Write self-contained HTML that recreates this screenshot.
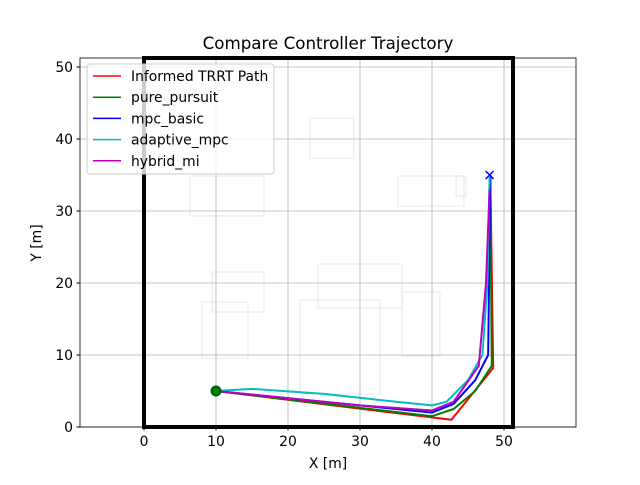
<!DOCTYPE html>
<html><head><meta charset="utf-8"><style>
body{margin:0;background:#fff;font-family:"Liberation Sans","DejaVu Sans",sans-serif}
</style></head><body>
<svg width="640" height="480" xmlns="http://www.w3.org/2000/svg" id="svg" font-family="DejaVu Sans, Liberation Sans, sans-serif">
<text x="328" y="49" text-anchor="middle" font-size="16.7">Compare Controller Trajectory</text>
<g id="map" fill="none" stroke="#d8d8d8" stroke-width="0.6">
<rect x="310" y="118" width="44" height="40"/><rect x="398" y="176" width="66" height="30"/><rect x="318" y="264" width="84" height="44"/>
<rect x="300" y="300" width="80" height="94"/><rect x="212" y="272" width="52" height="40"/><rect x="202" y="302" width="46" height="56"/>
<rect x="402" y="292" width="38" height="64"/><rect x="190" y="176" width="74" height="40"/><rect x="456" y="176" width="10" height="20"/>
</g>
<g id="grid" stroke="#b0b0b0" stroke-width="0.8"></g>
<g id="series" fill="none" stroke-width="2"></g>
<rect x="80" y="58" width="496" height="369" fill="none" stroke="#000" stroke-width="0.8"/>
<g id="ticks" font-size="13.9"></g>
<text x="328" y="468" text-anchor="middle" font-size="13.9">X [m]</text>
<text x="41" y="243" text-anchor="middle" font-size="13.9" transform="rotate(-90 41 243)">Y [m]</text>
<g>
<rect x="87" y="64" width="187" height="110" rx="3" fill="#fff" fill-opacity="0.8" stroke="#ccc"/>
<g id="legend" font-size="13.9"></g>
</g>
</svg>
<script>
const xTicks=[0,10,20,30,40,50];
const yTicks=[0,10,20,30,40,50];
const names=["Informed TRRT Path","pure_pursuit","mpc_basic","adaptive_mpc","hybrid_mi"];
const colors=["#ff0000","#008000","#0000ff","#00bfbf","#bf00bf"];
const redX=[10,42.7,48.5,48.1];const redY=[5,1.0,8.2,35];
const greenX=[10,40,43,46,48.3,48.1];const greenY=[5,1.5,2.5,5,8.5,35];
const blueX=[10,40,43,46,47.8,48.1];const blueY=[5,2.0,3.2,6.5,10,35];
const cyanX=[10,15,25,35,40,42,45,47,47.7,48];const cyanY=[5,5.3,4.6,3.5,3.0,3.5,6.5,10,20,35];
const magX=[10,20,30,40,43,46.5,47.5,48];const magY=[5,4,3,2.3,3.5,8.5,20,33];
const mapSize=[51.25];
const sx=v=>144+v*7.2, sy=v=>427-v*7.2;
const NS="http://www.w3.org/2000/svg";
function mk(t,a,p){const e=document.createElementNS(NS,t);for(const k in a)e.setAttribute(k,a[k]);p.appendChild(e);return e;}
const grid=document.getElementById('grid'),ticks=document.getElementById('ticks'),ser=document.getElementById('series'),leg=document.getElementById('legend');
xTicks.forEach(v=>{const l=mk('line',{x1:sx(v),x2:sx(v),y1:58,y2:427},grid);


mk('line',{x1:sx(v),x2:sx(v),y1:427,y2:430.5,stroke:'#000'},ticks);
const t=mk('text',{x:sx(v),y:446,'text-anchor':'middle'},ticks);t.textContent=v;

});
yTicks.forEach(v=>{const l=mk('line',{y1:sy(v),y2:sy(v),x1:80,x2:576},grid);


mk('line',{y1:sy(v),y2:sy(v),x1:76.5,x2:80,stroke:'#000'},ticks);
const t=mk('text',{x:73,y:sy(v)+5,'text-anchor':'end'},ticks);t.textContent=v;

});
const b=mapSize[0];
const border=mk('path',{d:`M${sx(0)},${sy(0)}V${sy(b)}H${sx(b)}V${sy(0)}Z`,stroke:'#000','stroke-width':4,fill:'none'},ser);


const data=[[redX,redY],[greenX,greenY],[blueX,blueY],[cyanX,cyanY],[magX,magY]];
const sn=['trrt-path-line','pure-pursuit-line','mpc-basic-line','adaptive-mpc-line','hybrid-mi-line'];
data.forEach((d,i)=>{const p=mk('polyline',{points:d[0].map((x,j)=>sx(x)+','+sy(d[1][j])).join(' '),stroke:colors[i],'stroke-linejoin':'round'},ser);


const ly=76+i*21.2;
mk('line',{x1:93,x2:121,y1:ly,y2:ly,stroke:colors[i],'stroke-width':1.5},leg);
const t=mk('text',{x:131,y:ly+5},leg);t.textContent=names[i];

});
const st=mk('circle',{cx:sx(redX[0]),cy:sy(redY[0]),r:4.5,fill:'#008000',stroke:'#006400'},ser);


const gx=sx(48),gy=sy(35);
const g=mk('path',{d:`M${gx-4},${gy-4}L${gx+4},${gy+4}M${gx-4},${gy+4}L${gx+4},${gy-4}`,stroke:'#0000ff','stroke-width':1.5},ser);


</script>
</body></html>
